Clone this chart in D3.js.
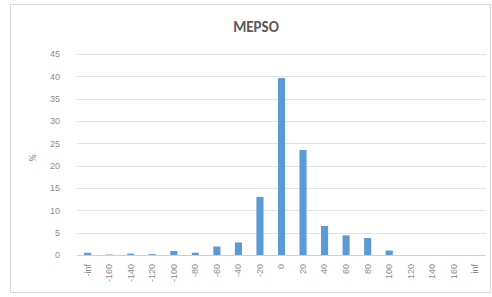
<!DOCTYPE html>
<html>
<head>
<meta charset="utf-8">
<script src="https://cdn.jsdelivr.net/npm/d3@7.9.0/dist/d3.min.js"></script>
<style>
  body { margin: 0; background: #fff; }
  svg { display: block; font-family: Calibri, Carlito, "Liberation Sans", Arial, sans-serif; }
</style>
</head>
<body>
<div id="chart"></div>
<script>
const categories = ['-inf', '-160', '-140', '-120', '-100', '-80', '-60', '-40', '-20', '0',
  '20', '40', '60', '80', '100', '120', '140', '160', 'inf'];
const values = [0.5, 0.1, 0.3, 0.2, 0.9, 0.5, 1.9, 2.8, 13, 39.6,
  23.5, 6.5, 4.4, 3.8, 1.0, 0, 0, 0, 0];
const yTicks = [0, 5, 10, 15, 20, 25, 30, 35, 40, 45];

const width = 492;
const height = 297;
const area = { left: 77, right: 486, top: 54, bottom: 255 };

const svg = d3.select('#chart')
  .append('svg')
  .attr('width', width)
  .attr('height', height);

// chart frame
svg.append('rect')
  .attr('x', 10.5).attr('y', 4.5)
  .attr('width', width - 12).attr('height', 288)
  .attr('fill', '#fff')
  .attr('stroke', '#d9d9d9');

const x = d3.scaleBand()
  .domain(categories)
  .range([area.left, area.right])
  .paddingInner(0.67)
  .paddingOuter(0.33);

const y = d3.scaleLinear()
  .domain([0, 45])
  .range([area.bottom, area.top]);

// gridlines
svg.append('g')
  .selectAll('line')
  .data(yTicks.slice(1))
  .join('line')
  .attr('x1', area.left).attr('x2', area.right)
  .attr('y1', d => Math.round(y(d)) + 0.5)
  .attr('y2', d => Math.round(y(d)) + 0.5)
  .attr('stroke', '#e3e3e3');

// y axis labels
const yAxis = svg.append('g')
  .attr('transform', `translate(60, 0)`)
  .call(d3.axisLeft(y).tickValues(yTicks).tickSize(0).tickPadding(0));
yAxis.select('.domain').remove();
yAxis.selectAll('text')
  .attr('fill', '#8c8c8c')
  .style('font-size', '9px');

// bars
svg.append('g')
  .selectAll('rect')
  .data(values)
  .join('rect')
  .attr('x', (d, i) => x(categories[i]))
  .attr('y', d => y(d))
  .attr('width', x.bandwidth())
  .attr('height', d => y(0) - y(d))
  .attr('fill', '#5b9bd5');

// baseline
svg.append('line')
  .attr('x1', area.left).attr('x2', area.right)
  .attr('y1', Math.round(y(0)) + 0.5).attr('y2', Math.round(y(0)) + 0.5)
  .attr('stroke', '#d0d0d0');

// x axis labels, rotated
const xAxis = svg.append('g')
  .attr('transform', `translate(0, ${area.bottom + 9})`)
  .call(d3.axisBottom(x).tickSize(0).tickPadding(0));
xAxis.select('.domain').remove();
xAxis.selectAll('text')
  .attr('transform', 'rotate(-90)')
  .attr('x', 0)
  .attr('y', 0)
  .attr('dy', '0.32em')
  .attr('text-anchor', 'end')
  .attr('fill', '#8c8c8c')
  .style('font-size', '9px');

// title
svg.append('text')
  .attr('x', 256)
  .attr('y', 32)
  .attr('text-anchor', 'middle')
  .attr('fill', '#595959')
  .style('font-size', '15px')
  .style('font-weight', 'bold')
  .text('MEPSO');

// y axis title
svg.append('text')
  .attr('transform', `translate(36, 158) rotate(-90)`)
  .attr('text-anchor', 'middle')
  .attr('fill', '#7f7f7f')
  .style('font-size', '10px')
  .text('%');
</script>
</body>
</html>
